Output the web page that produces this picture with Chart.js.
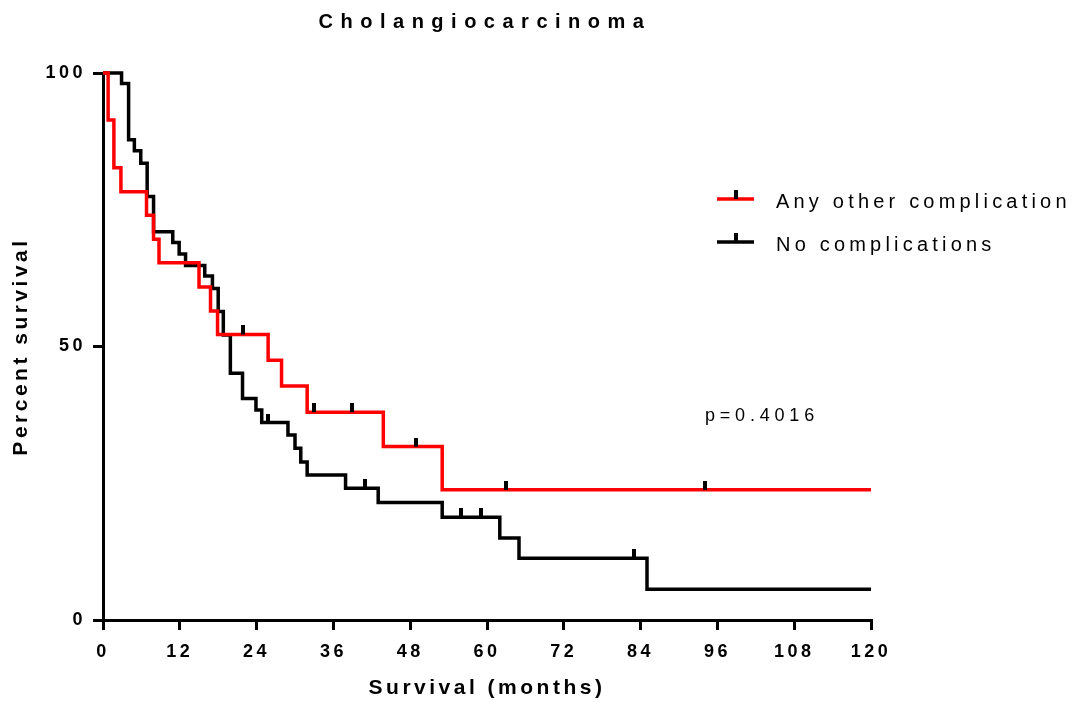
<!DOCTYPE html>
<html>
<head>
<meta charset="utf-8">
<title>Cholangiocarcinoma</title>
<script src="https://cdn.jsdelivr.net/npm/chart.js@4.4.0/dist/chart.umd.min.js"></script>
<style>
  html, body { margin: 0; padding: 0; background: #fff; }
  canvas { display: block; }
</style>
</head>
<body>
<canvas id="kmChart" width="1074" height="702"></canvas>
<script>
const FONT = "'Liberation Sans', Arial, sans-serif";

const chartTitle = 'Cholangiocarcinoma';
const xTitle = 'Survival (months)';
const yTitle = 'Percent survival';
const pValueText = 'p=0.4016';

const xTicks = [0, 12, 24, 36, 48, 60, 72, 84, 96, 108, 120];
const yTicks = [0, 50, 100];

// Any other complication (red)
const otherLabel = 'Any other complication';
const otherTimes = [0, 0.8, 1.7, 2.8, 6.8, 7.9, 8.75, 15.0, 16.8, 17.9, 25.8, 27.9, 31.9, 43.8, 53.0, 120];
const otherSurv = [100, 91.4, 82.7, 78.3, 74.0, 69.6, 65.3, 60.9, 56.5, 52.2, 47.5, 42.8, 38.0, 31.7, 23.8, 23.8];
const otherCensorTimes = [21.8, 32.9, 38.9, 48.9, 63.0, 94.1];
const otherCensorSurv = [52.2, 38.0, 38.0, 31.7, 23.8, 23.8];

// No complications (black)
const noneLabel = 'No complications';
const noneTimes = [0, 2.9, 4.0, 4.9, 5.9, 6.9, 7.9, 10.9, 11.9, 12.9, 15.9, 17.1, 18.0, 18.8, 19.9, 21.8, 23.9, 24.8, 28.9, 30.0, 30.9, 31.9, 37.9, 43.0, 53.0, 62.0, 65.0, 85.0, 120];
const noneSurv = [100, 98.1, 87.8, 85.8, 83.5, 77.4, 71.0, 69.0, 66.9, 64.8, 62.9, 60.6, 56.4, 52.1, 45.1, 40.5, 38.4, 36.1, 33.8, 31.4, 28.9, 26.5, 24.1, 21.5, 18.8, 15.0, 11.3, 5.6, 5.6];
const noneCensorTimes = [25.8, 40.9, 55.9, 59.1, 83.0];
const noneCensorSurv = [36.1, 24.1, 18.8, 18.8, 11.3];

function toPoints(xs, ys) {
    return xs.map((x, i) => ({ x: x, y: ys[i] }));
}

// little vertical tick sitting on top of the curve
function makeCensorMark() {
    const c = document.createElement('canvas');
    c.width = 4;
    c.height = 18;
    const g = c.getContext('2d');
    g.fillStyle = '#000';
    g.fillRect(0, 0, 4, 9);
    return c;
}
const censorMark = makeCensorMark();

const extras = {
    id: 'extras',
    beforeDraw(chart) {
        chart.ctx.letterSpacing = '3.5px';
    },
    afterDraw(chart) {
        const ctx = chart.ctx;
        const area = chart.chartArea;
        ctx.save();
        ctx.fillStyle = '#000';
        ctx.textBaseline = 'alphabetic';

        // title
        ctx.font = 'bold 20px ' + FONT;
        ctx.letterSpacing = '7.5px';
        ctx.textAlign = 'center';
        ctx.fillText(chartTitle, (area.left + area.right) / 2 - 2, 28);

        // legend
        ctx.font = '20px ' + FONT;
        ctx.letterSpacing = '4.2px';
        ctx.textAlign = 'left';
        const series = chart.data.datasets.filter(d => d.stepped);
        const lx = area.right - 154;
        series.forEach((d, i) => {
            const y = 199 + i * 43;
            ctx.strokeStyle = d.borderColor;
            ctx.lineWidth = 3.5;
            ctx.beginPath();
            ctx.moveTo(lx, y);
            ctx.lineTo(lx + 37, y);
            ctx.stroke();
            ctx.drawImage(censorMark, lx + 17, y - 9);
            ctx.fillText(d.label, lx + 59, y + 9);
        });

        // p value
        ctx.font = '18px ' + FONT;
        ctx.letterSpacing = '4.8px';
        ctx.fillText(pValueText, area.right - 166, 421);
        ctx.restore();
    }
};

const ctx = document.getElementById('kmChart').getContext('2d');
new Chart(ctx, {
    type: 'line',
    data: {
        datasets: [
            {
                label: otherLabel + ' (censored)',
                data: toPoints(otherCensorTimes, otherCensorSurv),
                showLine: false,
                pointStyle: censorMark,
                pointRadius: 5,
                order: 0
            },
            {
                label: noneLabel + ' (censored)',
                data: toPoints(noneCensorTimes, noneCensorSurv),
                showLine: false,
                pointStyle: censorMark,
                pointRadius: 5,
                order: 1
            },
            {
                label: otherLabel,
                data: toPoints(otherTimes, otherSurv),
                stepped: 'before',
                borderColor: '#ff0000',
                borderWidth: 3.5,
                pointRadius: 0,
                fill: false,
                order: 2
            },
            {
                label: noneLabel,
                data: toPoints(noneTimes, noneSurv),
                stepped: 'before',
                borderColor: '#000000',
                borderWidth: 3.5,
                pointRadius: 0,
                fill: false,
                order: 3
            }
        ]
    },
    options: {
        responsive: false,
        animation: false,
        events: [],
        clip: false,
        layout: { padding: { left: 0, right: 203, top: 73, bottom: 0 } },
        plugins: {
            legend: { display: false },
            title: { display: false },
            tooltip: { enabled: false }
        },
        scales: {
            x: {
                type: 'linear',
                min: 0,
                max: 120,
                afterBuildTicks: s => { s.ticks = xTicks.map(v => ({ value: v })); },
                afterFit: s => { s.height = 82; },
                border: { color: '#000', width: 3 },
                grid: { drawOnChartArea: false, color: '#000', lineWidth: 3, tickLength: 10 },
                ticks: {
                    color: '#000',
                    font: { family: FONT, size: 18, weight: 'bold' },
                    padding: 11,
                    maxRotation: 0,
                    autoSkip: false
                },
                title: {
                    display: true,
                    text: xTitle,
                    color: '#000',
                    font: { family: FONT, size: 21, weight: 'bold' },
                    padding: { top: 0, bottom: 1 }
                }
            },
            y: {
                type: 'linear',
                min: 0,
                max: 100,
                afterBuildTicks: s => { s.ticks = yTicks.map(v => ({ value: v })); },
                afterFit: s => { s.width = 103; },
                border: { color: '#000', width: 3 },
                grid: { drawOnChartArea: false, color: '#000', lineWidth: 3, tickLength: 10 },
                ticks: {
                    color: '#000',
                    font: { family: FONT, size: 18, weight: 'bold' },
                    padding: 7
                },
                title: {
                    display: true,
                    text: yTitle,
                    color: '#000',
                    font: { family: FONT, size: 21, weight: 'bold' },
                    padding: { top: 9, bottom: 0 }
                }
            }
        }
    },
    plugins: [extras]
});
</script>
</body>
</html>
